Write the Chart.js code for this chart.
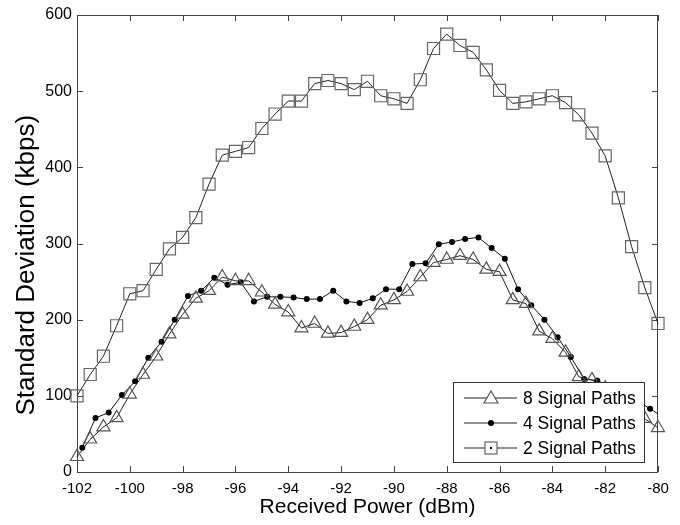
<!DOCTYPE html>
<html>
<head>
<meta charset="utf-8">
<script src="https://cdn.jsdelivr.net/npm/chart.js@4/dist/chart.umd.min.js"></script>
<style>
  html, body { margin: 0; padding: 0; background: #fff; }
</style>
</head>
<body>
<canvas id="grafico" width="680" height="525"></canvas>
<script>
// received power (dBm) for the 8 and 2 path runs
const xPaths = [-102, -101.5, -101, -100.5, -100, -99.5, -99, -98.5, -98, -97.5,
  -97, -96.5, -96, -95.5, -95, -94.5, -94, -93.5, -93, -92.5,
  -92, -91.5, -91, -90.5, -90, -89.5, -89, -88.5, -88, -87.5,
  -87, -86.5, -86, -85.5, -85, -84.5, -84, -83.5, -83, -82.5,
  -82, -81.5, -81, -80.5, -80];
// the 4 path run is sampled slightly to the right
const x4Paths = [-101.8, -101.3, -100.8, -100.3, -99.8, -99.3, -98.8, -98.3, -97.8, -97.3,
  -96.8, -96.3, -95.8, -95.3, -94.8, -94.3, -93.8, -93.3, -92.8, -92.3,
  -91.8, -91.3, -90.8, -90.3, -89.8, -89.3, -88.8, -88.3, -87.8, -87.3,
  -86.8, -86.3, -85.8, -85.3, -84.8, -84.3, -83.8, -83.3, -82.8, -82.3,
  -81.8, -81.3, -80.8, -80.3, -79.8];

const std8 = [20, 43, 59, 71, 102, 128, 152, 181, 207, 228,
  238, 256, 251, 251, 236, 220, 210, 189, 195, 182,
  183, 191, 200, 219, 226, 237, 256, 275, 279, 284,
  279, 266, 263, 226, 221, 185, 175, 157, 125, 121,
  110, 98, 86, 70, 58];
const std4 = [32, 71, 78, 101, 119, 150, 171, 200, 231, 238,
  255, 246, 249, 224, 230, 230, 229, 227, 227, 238,
  224, 222, 228, 240, 240, 273, 274, 299, 302, 306,
  308, 294, 280, 240, 219, 200, 177, 151, 122, 120,
  112, 104, 94, 83, 72];
const std2 = [100, 128, 152, 192, 234, 238, 266, 293, 308, 334,
  378, 416, 421, 426, 451, 470, 487, 487, 510, 514,
  510, 502, 513, 494, 490, 484, 515, 556, 575, 560,
  551, 528, 501, 484, 486, 490, 494, 485, 469, 445,
  415, 360, 296, 242, 195];

const etiquetas = ["8 Signal Paths", "4 Signal Paths", "2 Signal Paths"];

const puntos = (xs, ys) => xs.map((x, i) => ({ x, y: ys[i] }));

Chart.defaults.font.family = "'Liberation Sans', Arial, sans-serif";
Chart.defaults.color = "#000";

// frame + inward ticks like the original plot
const marco = {
  id: "marco",
  beforeDatasetsDraw(chart) {
    const { ctx, chartArea: a, scales } = chart;
    ctx.save();
    ctx.strokeStyle = "#444";
    ctx.lineWidth = 1;
    ctx.strokeRect(a.left + 0.5, a.top + 0.5, a.right - a.left - 1, a.bottom - a.top);
    ctx.beginPath();
    scales.x.ticks.forEach(t => {
      const px = Math.round(scales.x.getPixelForValue(t.value)) + 0.5;
      ctx.moveTo(px, a.bottom); ctx.lineTo(px, a.bottom - 6);
      ctx.moveTo(px, a.top); ctx.lineTo(px, a.top + 6);
    });
    scales.y.ticks.forEach(t => {
      const py = Math.round(scales.y.getPixelForValue(t.value)) + 0.5;
      ctx.moveTo(a.left, py); ctx.lineTo(a.left + 6, py);
      ctx.moveTo(a.right, py); ctx.lineTo(a.right - 6, py);
    });
    ctx.stroke();
    ctx.restore();
  }
};

// boxed legend in the lower right corner, drawn over the lines
const leyenda = {
  id: "leyenda",
  afterDatasetsDraw(chart) {
    const { ctx, chartArea: a } = chart;
    const w = 191, h = 80;
    const x0 = a.right - 14 - w, y0 = a.bottom - 10 - h;
    ctx.save();
    ctx.fillStyle = "#fff";
    ctx.fillRect(x0, y0, w, h);
    ctx.strokeStyle = "#333";
    ctx.lineWidth = 1;
    ctx.strokeRect(x0 + 0.5, y0 + 0.5, w, h);
    chart.data.datasets.forEach((ds, i) => {
      const cy = y0 + 16 + i * 25;
      const mx = x0 + 38;
      ctx.strokeStyle = "#222";
      ctx.beginPath();
      ctx.moveTo(x0 + 11, cy); ctx.lineTo(x0 + 64, cy);
      ctx.stroke();
      ctx.fillStyle = "#fff";
      ctx.strokeStyle = ds.pointBorderColor;
      ctx.lineWidth = 1.2;
      if (ds.pointStyle === "triangle") {
        ctx.beginPath();
        ctx.moveTo(mx, cy - 7); ctx.lineTo(mx + 7, cy + 5); ctx.lineTo(mx - 7, cy + 5);
        ctx.closePath(); ctx.fill(); ctx.stroke();
      } else if (ds.pointStyle === "rect") {
        ctx.fillRect(mx - 6, cy - 6, 12, 12);
        ctx.strokeRect(mx - 6, cy - 6, 12, 12);
        ctx.fillStyle = "#000";
        ctx.fillRect(mx - 1, cy - 1, 2, 2);
      } else {
        ctx.fillStyle = "#000";
        ctx.beginPath(); ctx.arc(mx, cy, 3, 0, Math.PI * 2); ctx.fill();
      }
      ctx.fillStyle = "#000";
      ctx.font = "17.5px 'Liberation Sans', Arial, sans-serif";
      ctx.textBaseline = "middle";
      ctx.fillText(ds.label, x0 + 70, cy + 1);
    });
    ctx.restore();
  }
};

new Chart(document.getElementById("grafico").getContext("2d"), {
  type: "line",
  data: {
    datasets: [{
      label: etiquetas[0],
      data: puntos(xPaths, std8),
      borderColor: "#222", borderWidth: 1,
      pointStyle: "triangle", pointRadius: 7.5,
      pointBorderColor: "#555", pointBackgroundColor: "rgba(0,0,0,0)", pointBorderWidth: 1.2,
      clip: 12
    }, {
      label: etiquetas[1],
      data: puntos(x4Paths, std4),
      borderColor: "#111", borderWidth: 1,
      pointStyle: "circle", pointRadius: 3,
      pointBorderColor: "#000", pointBackgroundColor: "#000", pointBorderWidth: 0,
      clip: { left: 12, top: 12, right: 0, bottom: 12 }
    }, {
      label: etiquetas[2],
      data: puntos(xPaths, std2),
      borderColor: "#222", borderWidth: 1,
      pointStyle: "rect", pointRadius: 8.5,
      pointBorderColor: "#666", pointBackgroundColor: "rgba(0,0,0,0)", pointBorderWidth: 1.2,
      clip: 12
    }]
  },
  options: {
    responsive: false,
    animation: false,
    layout: { padding: { top: 15, right: 22, left: 0, bottom: 0 } },
    plugins: { legend: { display: false }, tooltip: { enabled: false } },
    elements: { line: { tension: 0 } },
    scales: {
      x: {
        type: "linear", min: -102, max: -80,
        grid: { display: false, drawTicks: false },
        border: { display: false },
        ticks: { stepSize: 2, font: { size: 15 }, padding: 8, maxRotation: 0 },
        title: { display: true, text: "Received Power (dBm)", font: { size: 21 }, padding: { top: 0, bottom: 5 } },
        afterFit(scale) { scale.height = 53; }
      },
      y: {
        min: 0, max: 600,
        grid: { display: false, drawTicks: false },
        border: { display: false },
        ticks: { stepSize: 100, font: { size: 16 }, padding: 5 },
        title: { display: true, text: "Standard Deviation (kbps)      ", font: { size: 26 }, padding: { top: 11, bottom: 0 } },
        afterFit(scale) { scale.width = 77; }
      }
    }
  },
  plugins: [marco, leyenda]
});
</script>
</body>
</html>
